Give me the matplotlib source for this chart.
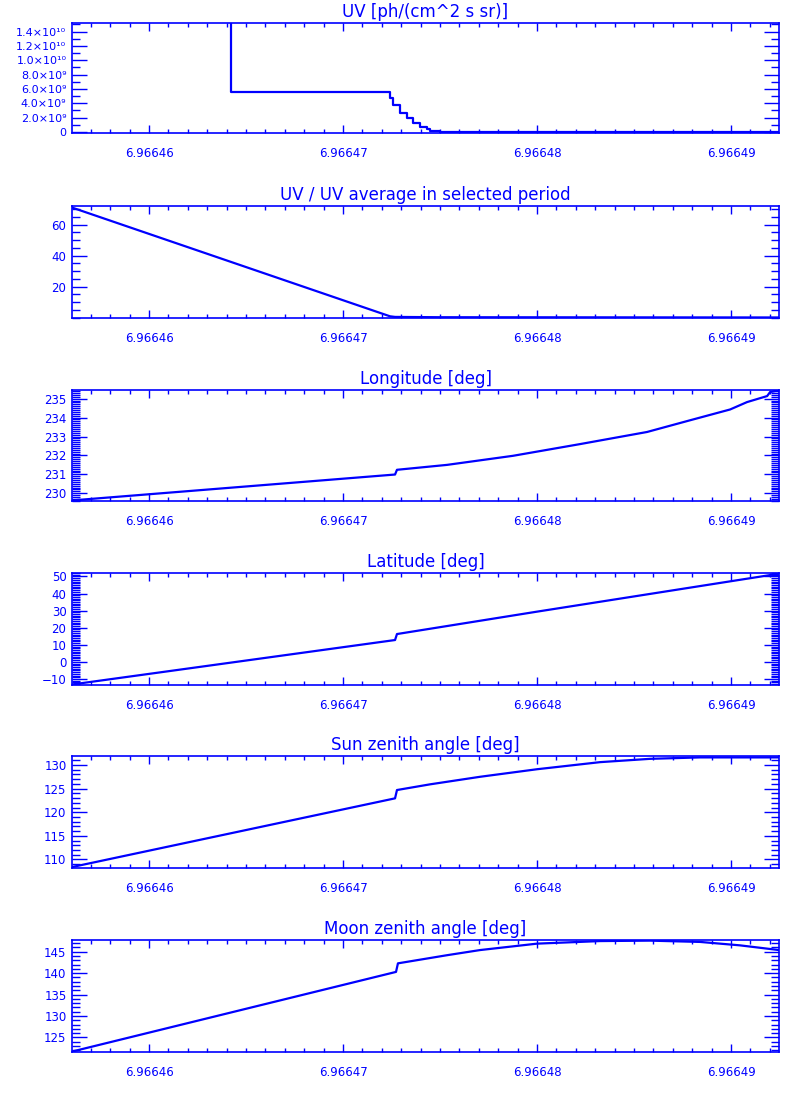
import matplotlib
matplotlib.use("Agg")
import matplotlib.pyplot as plt
from matplotlib.ticker import FixedLocator, MultipleLocator, FormatStrFormatter, FixedFormatter

# time axis shared by all panels
t_start, t_end = 6.96645603, 6.96649247
x_ticks = [6.96646, 6.96647, 6.96648, 6.96649]

# UV [ph/(cm^2 s sr)] (values before the drop are off the scale)
t_uv = [6.96645603, 6.96646423, 6.96647242, 6.96647258, 6.96647294, 6.96647330,
        6.96647361, 6.96647397, 6.96647433, 6.96647448, 6.96647500, 6.96649247]
uv = [2.0e10, 5.6e9, 4.8e9, 3.8e9, 2.7e9, 1.9e9, 1.25e9, 0.7e9, 0.35e9, 0.1e9, 0.0, 0.0]
uv_ticks = [0, 2e9, 4e9, 6e9, 8e9, 1e10, 1.2e10, 1.4e10]
uv_labels = ["0", "2.0×10⁹", "4.0×10⁹", "6.0×10⁹", "8.0×10⁹",
             "1.0×10¹⁰", "1.2×10¹⁰", "1.4×10¹⁰"]

# UV / UV average
t_ratio = [6.96645603, 6.96647242, 6.96647268, 6.96647500, 6.96649247]
ratio = [71.0, 0.8, 0.4, 0.2, 0.05]

# Longitude
t_lon = [6.96645603, 6.96647268, 6.96647278, 6.96647536, 6.96647876, 6.96648222,
         6.96648567, 6.96648789, 6.96648995, 6.96649082, 6.96649186, 6.96649201, 6.96649247]
lon = [229.62, 230.99, 231.24, 231.5, 231.98, 232.6, 233.24, 233.86, 234.43, 234.82,
       235.14, 235.35, 235.45]

# Latitude
t_lat = [6.96645603, 6.96647268, 6.96647278, 6.96648000, 6.96649247]
lat = [-13.2, 12.8, 16.3, 29.4, 51.6]

# Sun zenith angle
t_sun = [6.96645603, 6.96647268, 6.96647278, 6.96647448, 6.96647706, 6.96648000,
         6.96648325, 6.96648582, 6.96648840, 6.96649247]
sun = [108.4, 122.94, 124.7, 125.9, 127.5, 129.1, 130.6, 131.3, 131.6, 131.6]

# Moon zenith angle
t_moon = [6.96645603, 6.96647273, 6.96647283, 6.96647536, 6.96647706, 6.96648000,
          6.96648325, 6.96648582, 6.96648840, 6.96649046, 6.96649247]
moon = [121.7, 140.3, 142.3, 144.2, 145.4, 146.9, 147.5, 147.6, 147.3, 146.5, 145.4]

blue = "#0000ff"
plt.rcParams["font.family"] = ["DejaVu Sans"]

fig = plt.figure(figsize=(8, 11), dpi=100)

# (top px, bottom px) of each panel in the 800x1100 picture
rows = [(23, 133), (206, 318), (390, 501), (573, 685), (756, 868), (940, 1052)]

panels = [
    ("UV [ph/(cm^2 s sr)]", t_uv, uv, (-1.5e8, 1.52e10), 2e9, 1e9, "steps"),
    ("UV / UV average in selected period", t_ratio, ratio, (-0.3, 72), 20, 5, None),
    ("Longitude [deg]", t_lon, lon, (229.59, 235.46), 1, 0.1, None),
    ("Latitude [deg]", t_lat, lat, (-13.5, 52), 10, 1, None),
    ("Sun zenith angle [deg]", t_sun, sun, (108.2, 131.9), 5, 1, None),
    ("Moon zenith angle [deg]", t_moon, moon, (121.6, 147.75), 5, 1, None),
]

for (top, bot), (title, t, y, ylim, major, minor, style) in zip(rows, panels):
    ax = fig.add_axes([72 / 800, 1 - bot / 1100, (779 - 72) / 800, (bot - top) / 1100])
    if style == "steps":
        ax.plot(t, y, color=blue, lw=1.6, drawstyle="steps-post")
    else:
        ax.plot(t, y, color=blue, lw=1.6)
    ax.set_xlim(t_start, t_end)
    ax.set_ylim(*ylim)
    ax.set_title(title, color=blue, fontsize=12, pad=4)

    ax.xaxis.set_major_locator(FixedLocator(x_ticks))
    ax.xaxis.set_major_formatter(FormatStrFormatter("%.5f"))
    ax.xaxis.set_minor_locator(MultipleLocator(1e-6))

    if title.startswith("UV ["):
        ax.yaxis.set_major_locator(FixedLocator(uv_ticks))
        ax.yaxis.set_major_formatter(FixedFormatter(uv_labels))
    elif title.startswith("UV /"):
        ax.yaxis.set_major_locator(FixedLocator([20, 40, 60]))
    else:
        ax.yaxis.set_major_locator(MultipleLocator(major))
    ax.yaxis.set_minor_locator(MultipleLocator(minor))

    for s in ax.spines.values():
        s.set_color(blue)
        s.set_linewidth(1.2)
    ax.tick_params(which="both", direction="in", color=blue, labelcolor=blue,
                   top=True, right=True, labelsize=8.5)
    ax.tick_params(axis="x", which="major", length=6, width=1, pad=10)
    ax.tick_params(axis="x", which="minor", length=3, width=1)
    ax.tick_params(axis="y", which="major", length=11, width=1, pad=4)
    ax.tick_params(axis="y", which="minor", length=5.5, width=1)
    if style == "steps":
        ax.tick_params(axis="y", which="major", labelsize=8)

fig.savefig("out.png", dpi=100, facecolor="white")
